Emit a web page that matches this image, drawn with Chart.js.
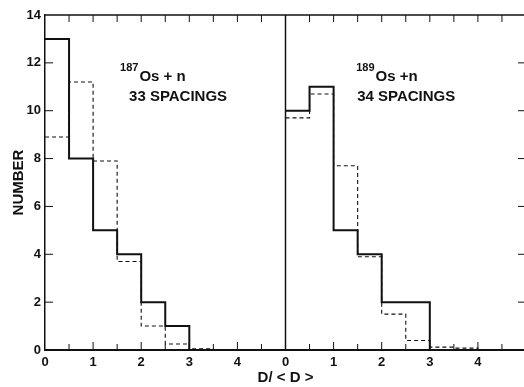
<!DOCTYPE html>
<html>
<head>
<meta charset="utf-8">
<script src="https://cdn.jsdelivr.net/npm/chart.js@4"></script>
<style>
  html, body { margin: 0; padding: 0; background: #fff; overflow: hidden; }
  #grafico { display: block; }
</style>
</head>
<body>
<canvas id="grafico" width="530" height="387"></canvas>
<script>
// -------------------------
// Dados (histogramas, bins de 0.5 em D/<D>)
// -------------------------
const binEdges = [0, 0.5, 1, 1.5, 2, 2.5, 3, 3.5];
const os187Counts = [13, 8, 5, 4, 2, 1, 0, 0];
const os187Expected = [8.9, 11.2, 7.9, 3.7, 1.0, 0.25, 0.05, 0.02];
const os189Counts = [10, 11, 5, 4, 2, 2, 0, 0];
const os189Expected = [9.7, 10.7, 7.7, 3.9, 1.5, 0.4, 0.12, 0.08];
const xTickLabels = ["0", "1", "2", "3", "4"];
const yTickValues = [0, 2, 4, 6, 8, 10, 12, 14];
const panelWidth = 5; // cada painel vai de 0 a 5 em D/<D>

const FONT = '"Liberation Sans", Arial, sans-serif';
const INK = "#111";

// pontos do histograma em degrau, deslocados para o painel
function stepPoints(values, offset) {
  const pts = values.map((v, i) => ({ x: binEdges[i] + offset, y: v }));
  pts.push({ x: binEdges[binEdges.length - 1] + 0.5 + offset, y: 0 });
  return pts;
}

function histo(values, offset, dashed) {
  return {
    data: stepPoints(values, offset),
    stepped: "before",
    borderColor: INK,
    borderWidth: dashed ? 1.1 : 2,
    borderDash: dashed ? [4, 3] : [],
    pointRadius: 0,
    fill: false
  };
}

// -------------------------
// Moldura, ticks internos e textos
// -------------------------
const moldura = {
  id: "moldura",
  afterDraw(chart) {
    const { ctx, chartArea: a, scales: { x, y } } = chart;
    const line = (x1, y1, x2, y2) => {
      ctx.beginPath(); ctx.moveTo(x1, y1); ctx.lineTo(x2, y2); ctx.stroke();
    };
    ctx.save();
    ctx.strokeStyle = INK;
    ctx.lineWidth = 1.5;
    line(a.left, a.top, a.right, a.top);
    const xd = x.getPixelForValue(panelWidth);
    line(xd, a.top, xd, a.bottom);

    ctx.lineWidth = 1;
    for (let v = 0.5; v < 2 * panelWidth; v += 0.5) {
      const px = x.getPixelForValue(v);
      const major = v % 1 === 0;
      line(px, a.bottom, px, a.bottom - (major ? 8 : 6));
      line(px, a.top, px, a.top + 7);
    }
    yTickValues.slice(1, -1).forEach(v => {
      const py = y.getPixelForValue(v);
      line(a.left, py, a.left + 8, py);
      line(a.right, py, a.right - 8, py);
    });

    // rótulos dos isótopos
    ctx.fillStyle = INK;
    ctx.textBaseline = "alphabetic";
    const rotulo = (xv, yv, mass, rest, count, dx) => {
      const px = x.getPixelForValue(xv);
      const py = y.getPixelForValue(yv);
      ctx.font = "bold 11px " + FONT;
      ctx.fillText(mass, px, py - 10);
      const w = ctx.measureText(mass).width;
      ctx.font = "bold 15px " + FONT;
      ctx.fillText(rest, px + w + 1, py);
      ctx.fillText(count, px + dx, py + 20);
    };
    rotulo(1.56, 11.24, "187", "Os + n", "33 SPACINGS", 9);
    rotulo(6.47, 11.24, "189", "Os +n", "34 SPACINGS", 1);
    ctx.restore();
  }
};

// -------------------------
// Gráfico
// -------------------------
new Chart(document.getElementById("grafico"), {
  type: "line",
  data: {
    datasets: [
      histo(os187Expected, 0, true),
      histo(os187Counts, 0, false),
      histo(os189Expected, panelWidth, true),
      histo(os189Counts, panelWidth, false)
    ]
  },
  options: {
    responsive: false,
    animation: false,
    layout: { padding: { top: 15, right: 4, left: 0, bottom: 0 } },
    plugins: { legend: { display: false }, tooltip: { enabled: false } },
    scales: {
      x: {
        type: "linear",
        min: 0,
        max: 2 * panelWidth,
        afterFit: s => { s.height = 37; },
        afterBuildTicks: s => {
          s.ticks = [];
          for (let p = 0; p < 2; p++) {
            xTickLabels.forEach((t, i) => s.ticks.push({ value: p * panelWidth + i }));
          }
        },
        ticks: {
          autoSkip: false,
          maxRotation: 0,
          padding: 5,
          color: INK,
          font: { family: FONT, size: 13, weight: "bold" },
          callback: v => xTickLabels[v % panelWidth]
        },
        grid: { display: false, drawTicks: false },
        border: { display: true, color: INK, width: 2 },
        title: {
          display: true,
          text: "D/ < D >",
          color: INK,
          font: { family: FONT, size: 15, weight: "bold" },
          padding: { top: 0, bottom: 0 }
        }
      },
      y: {
        min: 0,
        max: 14,
        afterFit: s => { s.width = 45; },
        afterBuildTicks: s => { s.ticks = yTickValues.map(v => ({ value: v })); },
        ticks: {
          padding: 4,
          color: INK,
          font: { family: FONT, size: 13, weight: "bold" }
        },
        grid: { display: false, drawTicks: false },
        border: { display: true, color: INK, width: 1.5 },
        title: {
          display: true,
          text: "NUMBER",
          color: INK,
          font: { family: FONT, size: 15, weight: "bold" },
          padding: { top: 10, bottom: 0 }
        }
      }
    }
  },
  plugins: [moldura]
});
</script>
</body>
</html>
